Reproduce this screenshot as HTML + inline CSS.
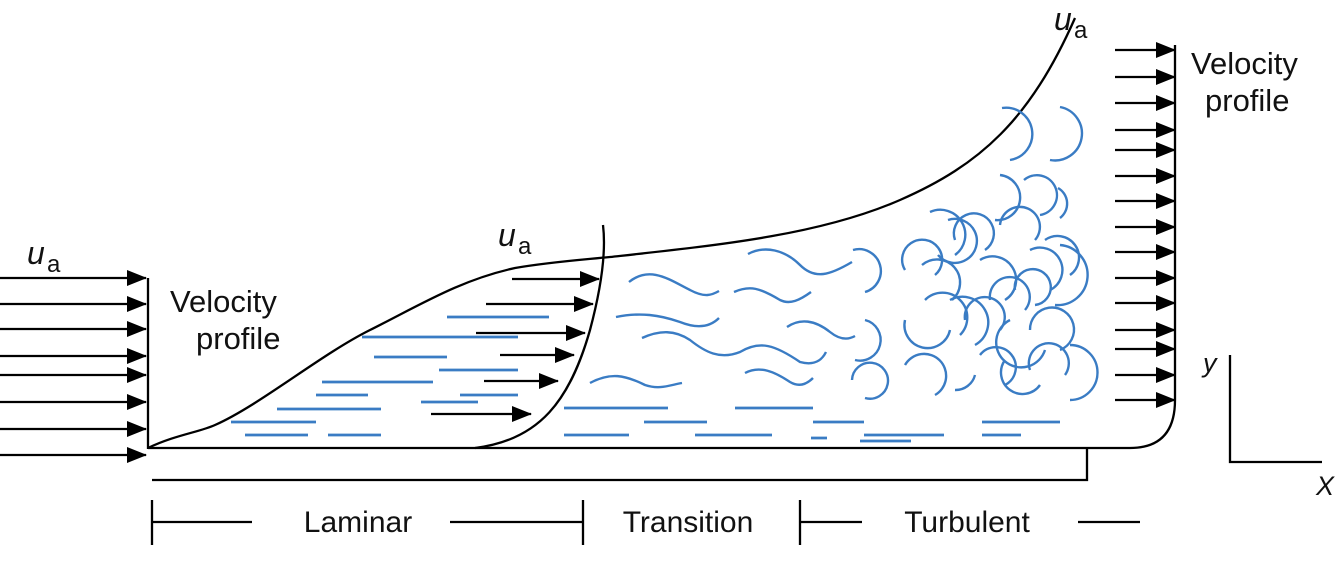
<!DOCTYPE html>
<html><head><meta charset="utf-8"><style>
html,body{margin:0;padding:0;background:#fff;}
svg{display:block;}
text{font-family:"Liberation Sans",sans-serif;fill:#111;}
</style></head><body>
<svg width="1338" height="571" viewBox="0 0 1338 571" xmlns="http://www.w3.org/2000/svg">
<defs>
<marker id="ab" markerWidth="20" markerHeight="18" refX="19" refY="8" orient="auto" markerUnits="userSpaceOnUse">
<path d="M0,0 L20,8 L0,16 Z" fill="#000"/></marker>
</defs>
<g stroke="#000" stroke-width="2.3" fill="none">
<line x1="0" y1="278" x2="146" y2="278" marker-end="url(#ab)"/>
<line x1="0" y1="304" x2="146" y2="304" marker-end="url(#ab)"/>
<line x1="0" y1="329" x2="146" y2="329" marker-end="url(#ab)"/>
<line x1="0" y1="356" x2="146" y2="356" marker-end="url(#ab)"/>
<line x1="0" y1="375" x2="146" y2="375" marker-end="url(#ab)"/>
<line x1="0" y1="402" x2="146" y2="402" marker-end="url(#ab)"/>
<line x1="0" y1="429" x2="146" y2="429" marker-end="url(#ab)"/>
<line x1="0" y1="455" x2="146" y2="455" marker-end="url(#ab)"/>
<line x1="148" y1="278" x2="148" y2="449"/>
<path d="M148,448 L1130,448 Q1175,448 1175,400 L1175,45"/>
<g>
<line x1="1115" y1="50" x2="1175" y2="50" marker-end="url(#ab)"/>
<line x1="1115" y1="77" x2="1175" y2="77" marker-end="url(#ab)"/>
<line x1="1115" y1="103" x2="1175" y2="103" marker-end="url(#ab)"/>
<line x1="1115" y1="130" x2="1175" y2="130" marker-end="url(#ab)"/>
<line x1="1115" y1="150" x2="1175" y2="150" marker-end="url(#ab)"/>
<line x1="1115" y1="176" x2="1175" y2="176" marker-end="url(#ab)"/>
<line x1="1115" y1="201" x2="1175" y2="201" marker-end="url(#ab)"/>
<line x1="1115" y1="227" x2="1175" y2="227" marker-end="url(#ab)"/>
<line x1="1115" y1="252" x2="1175" y2="252" marker-end="url(#ab)"/>
<line x1="1115" y1="278" x2="1175" y2="278" marker-end="url(#ab)"/>
<line x1="1115" y1="303" x2="1175" y2="303" marker-end="url(#ab)"/>
<line x1="1115" y1="330" x2="1175" y2="330" marker-end="url(#ab)"/>
<line x1="1115" y1="349" x2="1175" y2="349" marker-end="url(#ab)"/>
<line x1="1115" y1="375" x2="1175" y2="375" marker-end="url(#ab)"/>
<line x1="1115" y1="400" x2="1175" y2="400" marker-end="url(#ab)"/>
</g>
<path d="M148,448 C175,435 200,432 215,425 C260,405 320,355 370,330 C420,305 460,280 515,268 C550,262 580,260 610,257 C720,245 820,235 900,200 C980,165 1030,120 1075,18"/>
<path d="M475,448 C540,440 570,400 590,330 C602,285 606,250 603,225"/>
<line x1="512" y1="279" x2="599" y2="279" marker-end="url(#ab)"/>
<line x1="486" y1="304" x2="593" y2="304" marker-end="url(#ab)"/>
<line x1="476" y1="333" x2="585" y2="333" marker-end="url(#ab)"/>
<line x1="500" y1="355" x2="574" y2="355" marker-end="url(#ab)"/>
<line x1="484" y1="381" x2="558" y2="381" marker-end="url(#ab)"/>
<line x1="431" y1="414" x2="531" y2="414" marker-end="url(#ab)"/>
<path d="M152,480 L1087,480 L1087,449"/>
<path d="M152,500 V545 M583,500 V545 M800,500 V545 M152,522 H252 M450,522 H583 M800,522 H862 M1078,522 H1140"/>
<path d="M1230,355 V462 H1322"/>
</g>
<g stroke="#3a7cc4" stroke-width="2.8" fill="none">
<path d="M447,317H549 M362,337H518 M374,357H447 M439,370H518 M322,382H433 M316,395H368 M460,395H518 M421,402H478 M277,409H381 M231,422H316 M245,435H308 M328,435H381
M564,408H668 M735,408H813 M644,422H707 M813,422H864 M982,422H1060 M564,435H629 M695,435H772 M811,438H827 M864,435H944 M982,435H1021 M860,441H911"/>
</g>
<g stroke="#3a7cc4" stroke-width="2.4" fill="none">
<path d="M629,282 C650,265 670,280 690,290 C705,298 712,295 719,291"/>
<path d="M616,317 C640,312 660,315 680,322 C700,330 712,325 719,318"/>
<path d="M642,338 C660,330 675,330 690,340 C705,352 720,360 740,352 C760,340 775,345 800,362 C815,366 822,360 826,352"/>
<path d="M590,383 C610,372 625,375 645,385 C660,390 670,385 682,383"/>
<path d="M734,292 C750,285 760,288 780,300 C790,305 800,300 811,292"/>
<path d="M748,254 C765,245 785,250 800,265 C815,280 830,275 852,262"/>
<path d="M745,373 C760,365 775,372 790,382 C800,388 808,383 813,378"/>
<path d="M787,327 C800,318 815,320 830,332 C840,340 848,340 855,336"/>
</g>
<g stroke="#3a7cc4" stroke-width="2.4" fill="none">
<path d="M853,250 A20,20 0 1 1 865,292"/>
<path d="M865,320 A18,18 0 1 1 855,360"/>
<path d="M852,380 A18,18 0 1 1 865,398"/>
<path d="M1002,108 A22,22 0 0 1 1010,160"/>
<path d="M1060,107 A18,18 0 0 1 1050,160"/>
<path d="M1000,175 A22,22 0 0 1 995,220"/>
<path d="M1024,180 A20,20 0 1 1 1040,215"/>
<path d="M1058,188 A18,18 0 0 1 1060,218"/>
<path d="M930,212 A25,25 0 0 1 955,255"/>
<path d="M948,220 A22,22 0 1 1 938,255"/>
<path d="M905,270 A20,20 0 1 1 935,275"/>
<path d="M922,265 A22,22 0 1 1 952,300"/>
<path d="M905,320 A22,22 0 1 0 950,330"/>
<path d="M925,300 A22,22 0 1 1 960,335"/>
<path d="M955,240 A20,20 0 1 1 985,250"/>
<path d="M980,260 A22,22 0 1 1 1005,300"/>
<path d="M1000,225 A20,20 0 1 1 1035,240"/>
<path d="M1030,250 A22,22 0 1 1 1050,290"/>
<path d="M1045,240 A20,20 0 1 1 1070,275"/>
<path d="M1060,245 A25,25 0 0 1 1055,305"/>
<path d="M990,300 A20,20 0 1 1 1025,310"/>
<path d="M1010,320 A25,25 0 1 0 1045,350"/>
<path d="M1030,330 A22,22 0 1 1 1060,350"/>
<path d="M1005,360 A20,20 0 1 0 1040,385"/>
<path d="M1030,370 A20,20 0 1 1 1065,375"/>
<path d="M1070,345 A25,25 0 0 1 1070,400"/>
<path d="M905,365 A22,22 0 1 1 935,395"/>
<path d="M950,300 A20,20 0 1 1 975,345"/>
<path d="M965,320 A20,20 0 1 1 1000,330"/>
<path d="M980,355 A20,20 0 1 1 1005,385"/>
<path d="M955,390 A20,20 0 0 0 975,375"/>
<path d="M1015,290 A18,18 0 1 1 1035,305"/>
</g>
<text x="27" y="264" font-size="32" font-style="italic">u</text><text x="47" y="272" font-size="24">a</text>
<text x="498" y="246" font-size="32" font-style="italic">u</text><text x="518" y="254" font-size="24">a</text>
<text x="1054" y="30" font-size="32" font-style="italic">u</text><text x="1074" y="38" font-size="24">a</text>
<text x="170" y="312" font-size="31">Velocity</text>
<text x="196" y="349" font-size="31">profile</text>
<text x="1191" y="74" font-size="31">Velocity</text>
<text x="1205" y="111" font-size="31">profile</text>
<text x="1203" y="372" font-size="27" font-style="italic">y</text>
<text x="1316" y="495" font-size="27" font-style="italic">X</text>
<text x="358" y="532" font-size="30" text-anchor="middle">Laminar</text>
<text x="688" y="532" font-size="30" text-anchor="middle">Transition</text>
<text x="967" y="532" font-size="30" text-anchor="middle">Turbulent</text>
</svg>
</body></html>
